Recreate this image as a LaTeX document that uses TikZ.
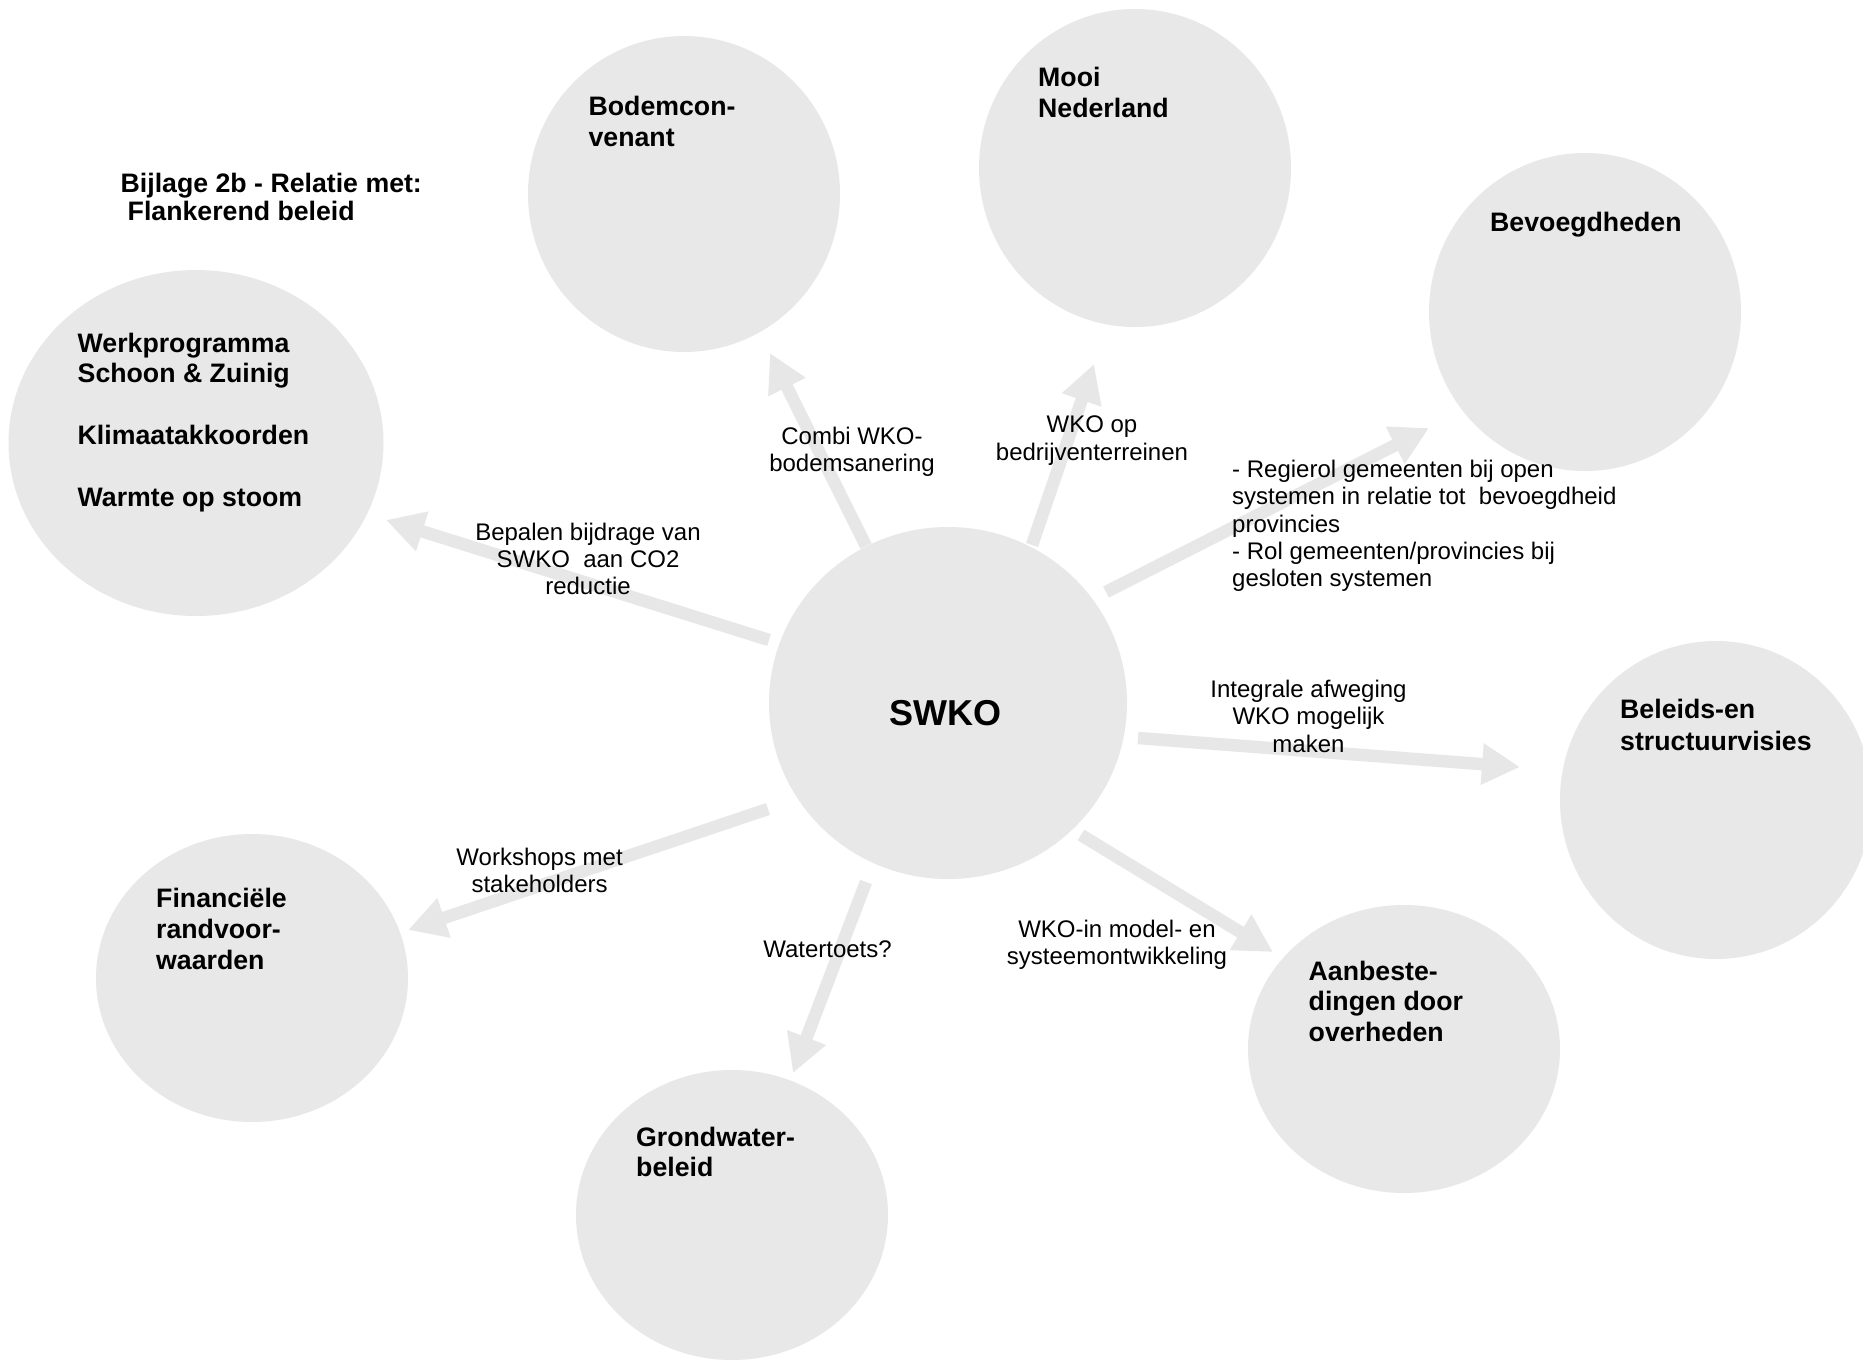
\documentclass[tikz,border=0pt]{standalone}
\usepackage{fontspec}
\setmainfont{Liberation Sans}
\usetikzlibrary{shapes.geometric,arrows.meta}
\definecolor{bub}{RGB}{232,232,232}
\definecolor{arr}{RGB}{231,231,231}
\begin{document}
\begin{tikzpicture}[x=1pt,y=-1pt,
  bubble/.style={ellipse,fill=bub,draw=none,inner sep=0pt},
  flow/.style={draw=arr,line width=12.5pt,-{Triangle[width=39pt,length=38pt]}},
  btext/.style={anchor=north west,inner sep=0pt,align=left,font=\fontsize{26.7}{30.5}\selectfont\bfseries},
  ltext/.style={anchor=north,inner sep=0pt,align=center,font=\fontsize{24}{27.3}\selectfont},
  lltext/.style={anchor=north west,inner sep=0pt,align=left,font=\fontsize{24}{27.3}\selectfont},
]
\useasboundingbox (0,0) rectangle (1863,1361);
\fill[white] (0,0) rectangle (1863,1361);

% bubbles
\node[bubble,minimum width=312pt,minimum height=316pt] (bodem) at (684,194) {};
\node[bubble,minimum width=312pt,minimum height=318pt] (mooi) at (1135,168) {};
\node[bubble,minimum width=312pt,minimum height=318pt] (bevoeg) at (1585,312) {};
\node[bubble,minimum width=375pt,minimum height=346pt] (werk) at (196,443) {};
\node[bubble,minimum width=358pt,minimum height=352pt] (swko) at (948,703) {};
\node[bubble,minimum width=312pt,minimum height=318pt] (beleid) at (1716,800) {};
\node[bubble,minimum width=312pt,minimum height=288pt] (finan) at (252,978) {};
\node[bubble,minimum width=312pt,minimum height=290pt] (grond) at (732,1215) {};
\node[bubble,minimum width=312pt,minimum height=288pt] (aanb) at (1404,1049) {};

% arrow end points
\coordinate (t1) at (769,640);  \coordinate (h1) at (386,520);
\coordinate (t2) at (866,546);  \coordinate (h2) at (770,353);
\coordinate (t3) at (1032,545); \coordinate (h3) at (1094,364);
\coordinate (t4) at (1106,592); \coordinate (h4) at (1429,428);
\coordinate (t5) at (1138,738); \coordinate (h5) at (1520,767);
\coordinate (t6) at (1081,835); \coordinate (h6) at (1273,952);
\coordinate (t7) at (866,882);  \coordinate (h7) at (793,1073);
\coordinate (t8) at (768,809);  \coordinate (h8) at (408,930);

\foreach \i in {1,...,8} \draw[flow] (t\i) -- (h\i);

% bubble texts
\node[btext,font=\fontsize{26.7}{28}\selectfont\bfseries] (title) at (120.5,173) {Bijlage 2b - Relatie met:\\\hspace*{7pt}Flankerend beleid};
\node[btext] (bodemT) at (588.4,96) {Bodemcon-\\venant};
\node[btext,font=\fontsize{26.7}{30.8}\selectfont\bfseries] (werkT) at (77.5,332.5) {Werkprogramma\\Schoon \& Zuinig\\[30.8pt]Klimaatakkoorden\\[30.8pt]Warmte op stoom};
\node[btext] (mooiT) at (1038,67) {Mooi\\Nederland};
\node[btext] (bevoegT) at (1490,212.4) {Bevoegdheden};
\node[btext,font=\fontsize{26.7}{31.5}\selectfont\bfseries] (beleidT) at (1620,699) {Beleids-en\\structuurvisies};
\node[btext,font=\fontsize{26.7}{31}\selectfont\bfseries] (finanT) at (156,887.5) {Financiële\\randvoor-\\waarden};
\node[btext] (grondT) at (636,1126.5) {Grondwater-\\beleid};
\node[btext] (aanbT) at (1308.5,960.5) {Aanbeste-\\dingen door\\overheden};
\node[inner sep=0pt,font=\fontsize{36}{40}\selectfont\bfseries] (swkoT) at (945,713) {SWKO};

% connector labels
\node[ltext] (l1) at (588,522.7) {Bepalen bijdrage van\\SWKO\ \ aan CO2\\reductie};
\node[ltext] (l2) at (852,427) {Combi WKO-\\bodemsanering};
\node[ltext] (l3) at (1092,416) {WKO op\\bedrijventerreinen};
\node[lltext] (l4) at (1232,460) {- Regierol gemeenten bij open\\systemen in relatie tot\ \ bevoegdheid\\provincies\\- Rol gemeenten/provincies bij\\gesloten systemen};
\node[ltext] (l5) at (1308.5,680) {Integrale afweging\\WKO mogelijk\\maken};
\node[ltext] (l6) at (1117,919.5) {WKO-in model- en\\systeemontwikkeling};
\node[ltext] (l7) at (827.5,940.5) {Watertoets?};
\node[ltext] (l8) at (539.6,848) {Workshops met\\stakeholders};
\end{tikzpicture}
\end{document}
